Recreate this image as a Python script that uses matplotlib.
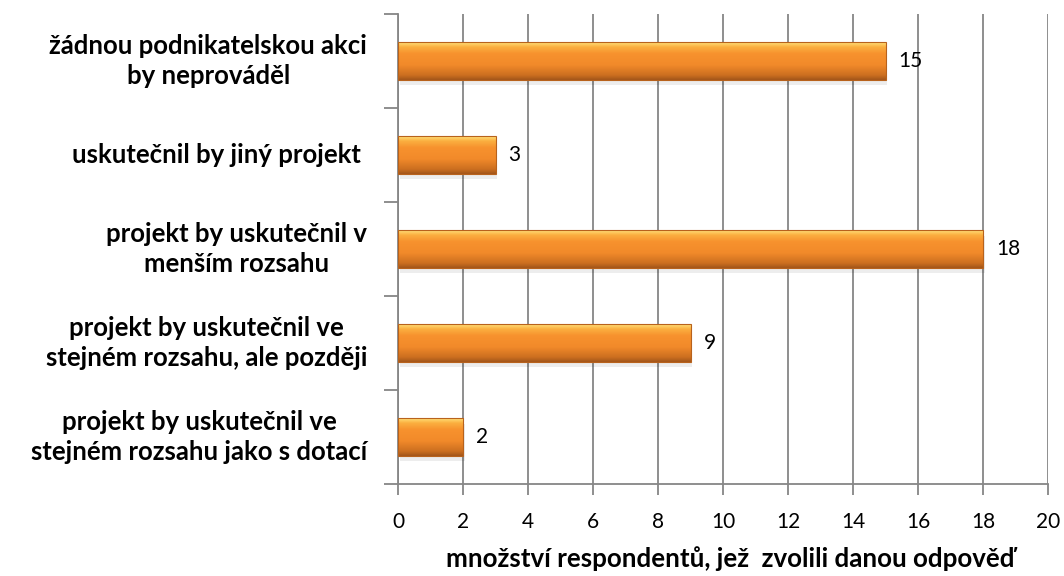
import matplotlib.pyplot as plt
import numpy as np
from matplotlib.colors import LinearSegmentedColormap

plt.rcParams['font.family'] = ['Lato', 'DejaVu Sans']

categories = [
    "žádnou podnikatelskou akci\nby neprováděl",
    "uskutečnil by jiný projekt ",
    "projekt by uskutečnil v\nmenším rozsahu",
    "projekt by uskutečnil ve\nstejném rozsahu, ale později",
    "projekt by uskutečnil ve\nstejném rozsahu jako s dotací",
]
values = [15, 3, 18, 9, 2]
xticks = list(range(0, 21, 2))
xlabel = "množství respondentů, jež  zvolili danou odpověď"

fig = plt.figure(figsize=(10.64, 5.76), dpi=100)
ax = fig.add_axes([398/1064, 1 - 484/576, 650/1064, 470/576])

n = len(categories)
ypos = np.arange(n)[::-1]  # first category on top
h = 0.4

# orange gradient, light top, dark bottom
cmap = LinearSegmentedColormap.from_list('og', [
    (0.0, '#ffe07a'), (0.12, '#fbb040'), (0.3, '#f7922e'),
    (0.6, '#f28a2a'), (0.88, '#cc6f20'), (1.0, '#a3561a')])
grad = np.linspace(0, 1, 64).reshape(-1, 1)

for y, v in zip(ypos, values):
    # soft shadow
    ax.add_patch(plt.Rectangle((0.05, y - h/2 - 0.06), v, h, color='#000000',
                               alpha=0.07, lw=0, zorder=2))
    ax.imshow(grad, cmap=cmap, aspect='auto', extent=(0, v, y - h/2, y + h/2),
              zorder=3, interpolation='bilinear')
    ax.add_patch(plt.Rectangle((0, y - h/2), v, h, fill=False,
                               ec='#b8621c', lw=0.8, zorder=4))
    ax.text(v + 0.4, y, str(v), va='center', ha='left', fontsize=15, zorder=5)

ax.set_xlim(0, 20)
ax.set_ylim(-0.5, n - 0.5)
ax.set_xticks(xticks)
ax.set_xticklabels([str(t) for t in xticks], fontsize=15)
ax.xaxis.grid(True, color='#868686', lw=1.3, zorder=1)
ax.set_axisbelow(True)

ax.set_yticks(np.arange(-0.5, n, 1))
ax.set_yticklabels([])
ax.tick_params(axis='y', length=10, color='#868686', width=1.3)
ax.tick_params(axis='x', length=8, color='#868686', width=1.3, pad=12)

for s in ['top', 'right']:
    ax.spines[s].set_visible(False)
for s in ['left', 'bottom']:
    ax.spines[s].set_color('#868686')
    ax.spines[s].set_linewidth(1.3)

for y, c in zip(ypos, categories):
    ax.text(-0.95, y, c, ha='right', va='center', multialignment='center',
            fontsize=18.5, fontweight='bold', linespacing=1.25)

# axis title placed explicitly so it stays inside the figure
fig.text(730/1064, 1 - 567/576, xlabel, ha='center', va='baseline',
         fontsize=18.6, fontweight='bold')

fig.savefig('out.png', dpi=100)
